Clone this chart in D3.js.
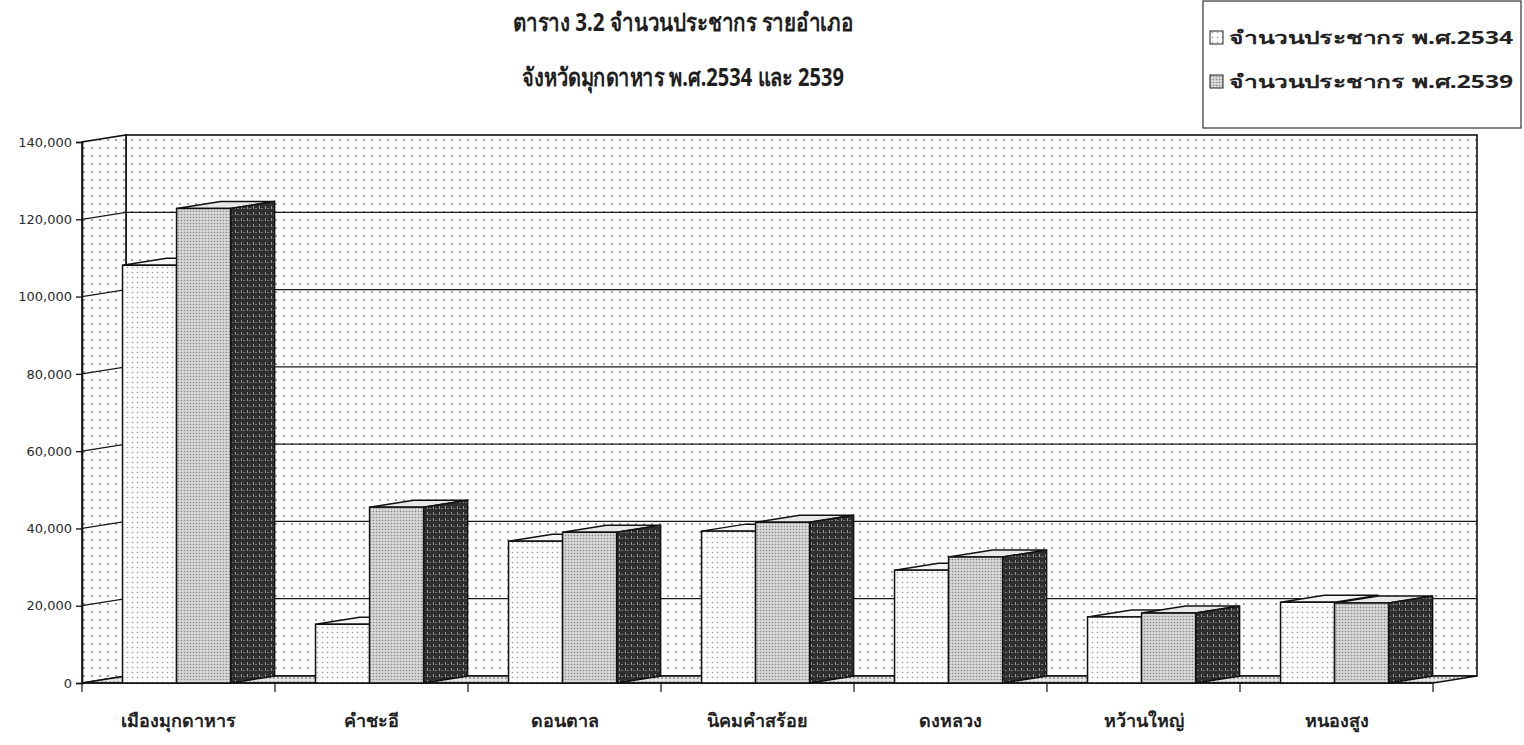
<!DOCTYPE html>
<html>
<head>
<meta charset="utf-8">
<script src="https://cdn.jsdelivr.net/npm/d3@7"></script>
<style>
  body { margin: 0; background: #fff; }
  svg text { font-family: "Noto Sans", "DejaVu Sans", sans-serif; }
</style>
</head>
<body>
<script>
// data
var districts = ["เมืองมุกดาหาร", "คำชะอี", "ดอนตาล", "นิคมคำสร้อย", "ดงหลวง", "หว้านใหญ่", "หนองสูง"];
var pop2534 = [108100, 15200, 36700, 39300, 29200, 17100, 20900];
var pop2539 = [122800, 45500, 39000, 41600, 32600, 18100, 20700];
var seriesNames = ["จำนวนประชากร พ.ศ.2534", "จำนวนประชากร พ.ศ.2539"];
var yTicks = [0, 20000, 40000, 60000, 80000, 100000, 120000, 140000];
var titleLines = ["ตาราง 3.2 จำนวนประชากร รายอำเภอ", "จังหวัดมุกดาหาร  พ.ศ.2534 และ 2539"];

var W = 1524, H = 745;
// front plane of the 3d box, and the depth offset to the back wall
var left = 82, right = 1433, base = 683;
var dx = 44, dy = -7;

var svg = d3.select("body").append("svg")
    .attr("width", W)
    .attr("height", H);

// ---- patterns (scan-like dot screens) ----
var defs = svg.append("defs");
function dotPattern(id, size, bg, dot, r) {
    var p = defs.append("pattern").attr("id", id)
        .attr("width", size).attr("height", size)
        .attr("patternUnits", "userSpaceOnUse");
    p.append("rect").attr("width", size).attr("height", size).attr("fill", bg);
    p.append("circle").attr("cx", size / 2).attr("cy", size / 2).attr("r", r).attr("fill", dot);
}
dotPattern("wall", 8, "#fff", "#8a8a8a", 1.1);
dotPattern("floor", 4, "#e6e6e6", "#888", 0.9);
dotPattern("b1", 5, "#fbfbfb", "#9a9a9a", 0.8);
dotPattern("b2", 3, "#d8d8d8", "#858585", 0.8);

var side = defs.append("pattern").attr("id", "side")
    .attr("width", 6).attr("height", 6).attr("patternUnits", "userSpaceOnUse");
side.append("rect").attr("width", 6).attr("height", 6).attr("fill", "#2e2e2e");
side.append("rect").attr("x", 1).attr("y", 2).attr("width", 1).attr("height", 3).attr("fill", "#9a9a9a");
side.append("rect").attr("x", 3).attr("y", 4).attr("width", 2).attr("height", 1).attr("fill", "#777");

// ---- scales ----
var x = d3.scaleBand()
    .domain(districts)
    .range([left, right])
    .padding(0);
var bw = x.bandwidth();

var y = d3.scaleLinear()
    .domain([0, 140000])
    .range([base, base - 541]);

var ytop = y(140000);

// ---- walls and floor ----
svg.append("rect")
    .attr("x", left + dx).attr("y", ytop + dy)
    .attr("width", right - left).attr("height", base - ytop)
    .attr("fill", "url(#wall)")
    .attr("stroke", "#111").attr("stroke-width", 1.6);

svg.append("path")
    .attr("d", "M" + left + "," + base + "L" + (left + dx) + "," + (base + dy) +
        "L" + (left + dx) + "," + (ytop + dy) + "L" + left + "," + ytop + "Z")
    .attr("fill", "url(#wall)")
    .attr("stroke", "#111").attr("stroke-width", 1.6);

svg.append("path")
    .attr("d", "M" + left + "," + base + "L" + right + "," + base +
        "L" + (right + dx) + "," + (base + dy) + "L" + (left + dx) + "," + (base + dy) + "Z")
    .attr("fill", "url(#floor)")
    .attr("stroke", "#111").attr("stroke-width", 1.4);

// gridlines: left wall then back wall
svg.append("g")
    .selectAll("path")
    .data(yTicks.slice(1, -1))
    .enter()
    .append("path")
    .attr("d", function(d) {
        return "M" + left + "," + y(d) + "L" + (left + dx) + "," + (y(d) + dy) +
            "L" + (right + dx) + "," + (y(d) + dy);
    })
    .attr("fill", "none")
    .attr("stroke", "#1a1a1a")
    .attr("stroke-width", 1.3);

// ---- y axis ----
var yAxis = svg.append("g")
    .attr("transform", "translate(" + left + ",0)")
    .call(d3.axisLeft(y).tickValues(yTicks).tickSize(6).tickPadding(4)
        .tickFormat(d3.format(",")));
yAxis.select(".domain").attr("stroke", "#111").attr("stroke-width", 1.6);
yAxis.selectAll(".tick line").attr("stroke", "#111").attr("stroke-width", 1.3);
yAxis.selectAll("text")
    .style("font-family", "'DejaVu Sans', sans-serif")
    .style("font-size", "13px")
    .attr("fill", "#2a2a2a");

// ---- x axis ----
var xAxis = svg.append("g")
    .attr("transform", "translate(0," + base + ")");
xAxis.append("line")
    .attr("x1", left).attr("x2", right)
    .attr("stroke", "#111").attr("stroke-width", 1.4);
xAxis.selectAll(".xtick")
    .data(districts.concat(["end"]))
    .enter()
    .append("line")
    .attr("x1", function(d, i) { return left + i * bw; })
    .attr("x2", function(d, i) { return left + i * bw; })
    .attr("y1", 0).attr("y2", 9)
    .attr("stroke", "#111").attr("stroke-width", 1.2);
xAxis.selectAll(".xlab")
    .data(districts)
    .enter()
    .append("text")
    .attr("x", function(d) { return x(d) + bw / 2; })
    .attr("y", 44)
    .attr("text-anchor", "middle")
    .style("font-size", "18px")
    .style("font-weight", "bold")
    .attr("fill", "#222")
    .text(function(d) { return d; });

// ---- 3d columns ----
var bars = svg.append("g");
districts.forEach(function(name, i) {
    var x0 = x(name);
    var w = bw * 0.28;
    var xa = x0 + bw * 0.21;
    var xb = xa + w;

    // series 2534: front face + top
    var t1 = y(pop2534[i]);
    bars.append("path")
        .attr("d", "M" + xa + "," + t1 + "L" + (xa + dx) + "," + (t1 + dy) +
            "L" + (xa + w + dx) + "," + (t1 + dy) + "L" + (xa + w) + "," + t1 + "Z")
        .attr("fill", "#f5f5f5").attr("stroke", "#111").attr("stroke-width", 1.5);
    bars.append("rect")
        .attr("x", xa).attr("y", t1)
        .attr("width", w).attr("height", base - t1)
        .attr("fill", "url(#b1)").attr("stroke", "#111").attr("stroke-width", 1.5);

    // series 2539: top, side, front face
    var t2 = y(pop2539[i]);
    bars.append("path")
        .attr("d", "M" + xb + "," + t2 + "L" + (xb + dx) + "," + (t2 + dy) +
            "L" + (xb + w + dx) + "," + (t2 + dy) + "L" + (xb + w) + "," + t2 + "Z")
        .attr("fill", "#e8e8e8").attr("stroke", "#111").attr("stroke-width", 1.5);
    bars.append("path")
        .attr("d", "M" + (xb + w) + "," + t2 + "L" + (xb + w + dx) + "," + (t2 + dy) +
            "L" + (xb + w + dx) + "," + (base + dy) + "L" + (xb + w) + "," + base + "Z")
        .attr("fill", "url(#side)").attr("stroke", "#111").attr("stroke-width", 1.5);
    bars.append("rect")
        .attr("x", xb).attr("y", t2)
        .attr("width", w).attr("height", base - t2)
        .attr("fill", "url(#b2)").attr("stroke", "#111").attr("stroke-width", 1.5);
});

// ---- title ----
var titleLen = [340, 322];
svg.selectAll(".title")
    .data(titleLines)
    .enter()
    .append("text")
    .attr("x", 683)
    .attr("y", function(d, i) { return 31 + i * 55; })
    .attr("text-anchor", "middle")
    .attr("textLength", function(d, i) { return titleLen[i]; })
    .attr("lengthAdjust", "spacingAndGlyphs")
    .style("font-size", "25px")
    .style("font-weight", "bold")
    .attr("fill", "#1e1e1e")
    .text(function(d) { return d; });

// ---- legend ----
var legend = svg.append("g");
legend.append("rect")
    .attr("x", 1203).attr("y", 1)
    .attr("width", 318).attr("height", 127)
    .attr("fill", "#fff").attr("stroke", "#333").attr("stroke-width", 1.2);
legend.selectAll("rect.sw")
    .data(seriesNames)
    .enter()
    .append("rect")
    .attr("class", "sw")
    .attr("x", 1210)
    .attr("y", function(d, i) { return 31 + i * 44; })
    .attr("width", 13).attr("height", 13)
    .attr("fill", function(d, i) { return i ? "url(#b2)" : "url(#b1)"; })
    .attr("stroke", "#222");
legend.selectAll("text")
    .data(seriesNames)
    .enter()
    .append("text")
    .attr("x", 1229)
    .attr("y", function(d, i) { return 44 + i * 44; })
    .attr("textLength", 284)
    .attr("lengthAdjust", "spacingAndGlyphs")
    .style("font-size", "18px")
    .style("font-weight", "bold")
    .attr("fill", "#222")
    .text(function(d) { return d; });
</script>
</body>
</html>
